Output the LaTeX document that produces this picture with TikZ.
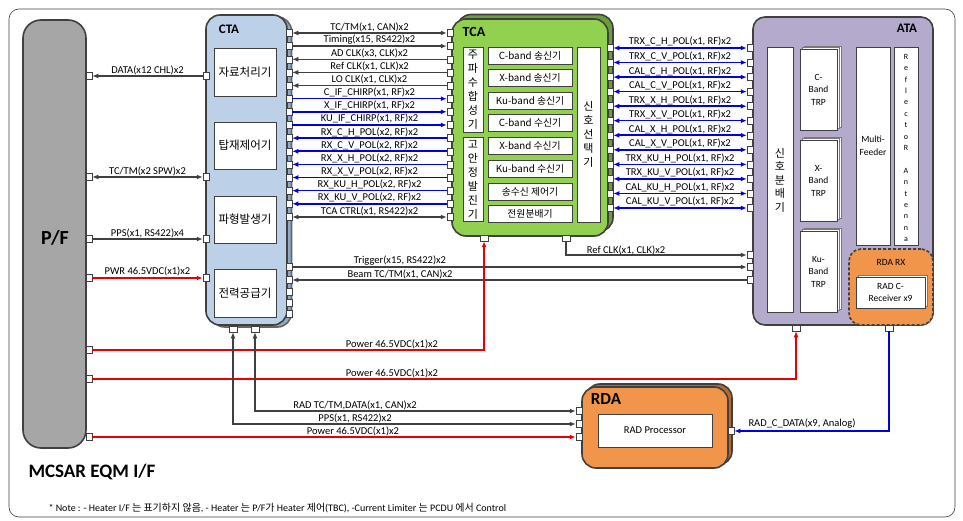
\documentclass[tikz,border=0pt]{standalone}
\usepackage{fontspec}
\setmainfont{Carlito}
\newfontfamily\kr{Noto Sans CJK KR}
\usetikzlibrary{arrows.meta}
\definecolor{gl}{HTML}{404040}
\definecolor{bl}{HTML}{0000E0}
\definecolor{rd}{HTML}{E60000}
\definecolor{pfgray}{HTML}{A6A6A6}
\definecolor{ctab}{HTML}{BCD0E8}
\definecolor{ctash}{HTML}{8FAAC8}
\definecolor{tcag}{HTML}{92D050}
\definecolor{tcash}{HTML}{6A9E3A}
\definecolor{atap}{HTML}{B4AACB}
\definecolor{rdao}{HTML}{F0954A}
\definecolor{rdash}{HTML}{B8682E}
\newcommand\tline[4]{%
  \node[port] (cR#1) at (289,#2) {};
  \node[port] (tL#1) at (450,#2) {};
  \draw[#3] (cR#1) -- node[lab,above=0.3pt] (lt#1) {#4} (tL#1);
}
\newcommand\aline[3]{%
  \node[port] (tR#1) at (610,#2) {};
  \node[port] (aL#1) at (750,#2) {};
  \draw[bline,<->] (tR#1) -- node[lab,above=0.3pt] (la#1) {#3} (aL#1);
}
\newcommand\vchars[5]{%
  \foreach[count=\k] \ch in {#5}{\node[kchar] (#1\k) at (#2,{#3+(\k-1)*#4}) {\ch};}%
}
\begin{document}
\begin{tikzpicture}[x=1pt,y=-1pt,
  >={Latex[length=6pt,width=5pt]},
  port/.style={draw=gl, fill=white, line width=0.5pt, minimum width=6pt, minimum height=7pt, inner sep=0pt},
  hport/.style={port, minimum width=8pt, minimum height=6pt},
  gline/.style={draw=gl, line width=1.4pt},
  bline/.style={draw=bl, line width=1.6pt},
  rline/.style={draw=rd, line width=1.6pt},
  lab/.style={font=\fontsize{10.5}{11}\selectfont, inner sep=0.5pt, text=black},
  wbox/.style={draw=gl, fill=white, line width=0.8pt, inner sep=0pt},
  ktext/.style={font=\kr\fontsize{11.5}{13}\selectfont},
  tbox/.style={wbox, minimum width=84pt, minimum height=17pt, font=\kr\fontsize{9.8}{11}\selectfont},
  kchar/.style={font=\kr\fontsize{11}{12}\selectfont, inner sep=0pt},
  block/.style={draw=gl, line width=1.6pt, rounded corners=14pt, inner sep=0pt},
  title/.style={font=\bfseries\fontsize{13}{13}\selectfont}
]
\useasboundingbox (0,0) rectangle (963,521);
\fill[white] (0,0) rectangle (963,521);
\draw[gl, line width=0.6pt, rounded corners=10pt] (9,9) rectangle (955,517);

% ---------- P/F ----------
\node[block, fill=pfgray, rounded corners=18pt, minimum width=63pt, minimum height=428pt] (pf) at (54.5,234) {};
\node[font=\bfseries\fontsize{20}{20}\selectfont] (pflab) at (55,238) {P/F};

% ---------- CTA ----------
\node[block, fill=ctash, draw=gl!80, minimum width=81pt, minimum height=310pt] (ctas) at (251,172) {};
\node[block, fill=ctab, minimum width=81pt, minimum height=310pt] (cta) at (246.5,170) {};
\node[title] (ctalab) at (229,29) {CTA};
\node[wbox, ktext, minimum width=62pt, minimum height=48pt] (c1) at (245,72) {자료처리기};
\node[wbox, ktext, minimum width=62pt, minimum height=47pt] (c2) at (245,145.5) {탑재제어기};
\node[wbox, ktext, minimum width=62pt, minimum height=47pt] (c3) at (245,219.5) {파형발생기};
\node[wbox, ktext, minimum width=62pt, minimum height=48pt] (c4) at (245,293) {전력공급기};

% ---------- TCA ----------
\node[block, fill=tcash, minimum width=156pt, minimum height=217pt] (tcas) at (535,123) {};
\node[block, fill=tcag, minimum width=156pt, minimum height=217pt] (tca) at (530,127.5) {};
\node[title, font=\bfseries\fontsize{14}{14}\selectfont] (tcalab) at (474,32) {TCA};
\node[wbox, minimum width=20pt, minimum height=85pt] (tf1) at (473,89.5) {};
\vchars{tf1c}{473}{54.5}{14}{주,파,수,합,성,기}
\node[wbox, minimum width=20pt, minimum height=84pt] (tf2) at (473,179) {};
\vchars{tf2c}{473}{144}{14}{고,안,정,발,진,기}
\node[tbox] (tm1) at (530,55.5) {C-band 송신기};
\node[tbox] (tm2) at (530,77.5) {X-band 송신기};
\node[tbox] (tm3) at (530,100.5) {Ku-band 송신기};
\node[tbox] (tm4) at (530,123) {C-band 수신기};
\node[tbox] (tm5) at (530,145.5) {X-band 수신기};
\node[tbox] (tm6) at (530,168.5) {Ku-band 수신기};
\node[tbox] (tm7) at (530,191.5) {송수신 제어기};
\node[tbox] (tm8) at (530,214) {전원분배기};
\node[wbox, minimum width=23pt, minimum height=175pt] (tsel) at (588.5,134.5) {};
\vchars{tselc}{588.5}{106.5}{14}{신,호,선,택,기}

% ---------- ATA ----------
\node[block, fill=atap, rounded corners=12pt, minimum width=180pt, minimum height=308pt] (ata) at (843,171) {};
\node[title] (atalab) at (907,28) {ATA};
\node[wbox, minimum width=26pt, minimum height=265pt] (adist) at (780,179.5) {};
\vchars{adc}{780}{153}{13.5}{신,호,분,배,기}
\foreach \n/\cy/\t in {1/89.5/C-, 2/180.5/X-, 3/271.5/Ku-}{
  \node[wbox, draw=gl!70, minimum width=37pt, minimum height=81pt] (trpsb\n) at (822.5,\cy-3) {};
  \node[wbox, draw=gl!70, minimum width=37pt, minimum height=81pt] (trpsa\n) at (820.5,\cy-1.5) {};
  \node[wbox, minimum width=37pt, minimum height=81pt, align=center, font=\fontsize{9.5}{12.5}\selectfont] (trp\n) at (818.5,\cy) {\t\\Band\\TRP};
}
\node[wbox, minimum width=34pt, minimum height=198pt, align=center, font=\fontsize{9.5}{13}\selectfont] (mf) at (873,146) {Multi-\\Feeder};
\node[wbox, minimum width=24pt, minimum height=198pt] (refl) at (906,146) {};
\node[align=center, font=\fontsize{8}{11.4}\selectfont] (reflt) at (906,148) {R\\e\\f\\l\\e\\c\\t\\o\\R\\\mbox{}\\A\\n\\t\\e\\n\\n\\a};
\node[draw=gl, densely dashed, line width=1.6pt, fill=rdao, rounded corners=12pt, minimum width=84pt, minimum height=76pt, inner sep=0pt] (rdarx) at (891,287) {};
\node[font=\fontsize{9.5}{10}\selectfont] (rdarxlab) at (891,262) {RDA RX};
\node[wbox, draw=gl!70, minimum width=69pt, minimum height=31pt] (rcvs) at (892.5,291) {};
\node[wbox, minimum width=69pt, minimum height=31pt, align=center, font=\fontsize{9.5}{12}\selectfont] (rcv) at (890.5,292.5) {RAD C-\\Receiver x9};

% ---------- RDA ----------
\node[block, fill=rdash, minimum width=146pt, minimum height=81pt] (rdas) at (659,424.5) {};
\node[block, fill=rdao, minimum width=146pt, minimum height=81pt] (rda) at (655,427.5) {};
\node[font=\bfseries\fontsize{17}{17}\selectfont] (rdalab) at (606,399) {RDA};
\node[wbox, minimum width=114pt, minimum height=33pt, font=\fontsize{10.5}{11}\selectfont] (rproc) at (655,430.5) {RAD Processor};

% ---------- CTA <-> TCA ----------
\tline{1}{33}{gline,<->}{TC/TM(x1, CAN)x2}
\tline{2}{46.1}{gline,->}{Timing(x15, RS422)x2}
\tline{3}{59.3}{gline,<-}{AD CLK(x3, CLK)x2}
\tline{4}{72.4}{gline,<-}{Ref CLK(x1, CLK)x2}
\tline{5}{85.6}{gline,<-}{LO CLK(x1, CLK)x2}
\tline{6}{98.7}{bline,->}{C\_IF\_CHIRP(x1, RF)x2}
\tline{7}{111.8}{bline,->}{X\_IF\_CHIRP(x1, RF)x2}
\tline{8}{125}{bline,->}{KU\_IF\_CHIRP(x1, RF)x2}
\tline{9}{138.1}{bline,<-}{RX\_C\_H\_POL(x2, RF)x2}
\tline{10}{151.3}{bline,<-}{RX\_C\_V\_POL(x2, RF)x2}
\tline{11}{164.4}{bline,<-}{RX\_X\_H\_POL(x2, RF)x2}
\tline{12}{177.5}{bline,<-}{RX\_X\_V\_POL(x2, RF)x2}
\tline{13}{190.7}{bline,<-}{RX\_KU\_H\_POL(x2, RF)x2}
\tline{14}{203.8}{bline,<-}{RX\_KU\_V\_POL(x2, RF)x2}
\tline{15}{217}{gline,<->}{TCA CTRL(x1, RS422)x2}

% ---------- TCA <-> ATA ----------
\aline{1}{48}{TRX\_C\_H\_POL(x1, RF)x2}
\aline{2}{62.5}{TRX\_C\_V\_POL(x1, RF)x2}
\aline{3}{77.1}{CAL\_C\_H\_POL(x1, RF)x2}
\aline{4}{91.6}{CAL\_C\_V\_POL(x1, RF)x2}
\aline{5}{106.2}{TRX\_X\_H\_POL(x1, RF)x2}
\aline{6}{120.7}{TRX\_X\_V\_POL(x1, RF)x2}
\aline{7}{135.3}{CAL\_X\_H\_POL(x1, RF)x2}
\aline{8}{149.8}{CAL\_X\_V\_POL(x1, RF)x2}
\aline{9}{164.4}{TRX\_KU\_H\_POL(x1, RF)x2}
\aline{10}{178.9}{TRX\_KU\_V\_POL(x1, RF)x2}
\aline{11}{193.5}{CAL\_KU\_H\_POL(x1, RF)x2}
\aline{12}{208}{CAL\_KU\_V\_POL(x1, RF)x2}

% ---------- other ports ----------
\foreach \n/\y in {1/76,2/177,3/239,4/278,5/350,6/379,7/437}{\node[port] (pf\n) at (89,\y) {};}
\foreach \n/\y in {1/76,2/177,3/239,4/278}{\node[port] (cL\n) at (206,\y) {};}
\foreach \n/\y in {16/267,17/280,18/292,19/303,20/314}{\node[port] (cR\n) at (289,\y) {};}
\node[hport] (cB1) at (233,329) {};
\node[hport] (cB2) at (255,329) {};
\node[hport] (tB1) at (484,238) {};
\node[hport] (tB2) at (566,238) {};
\foreach \n/\y in {13/255,14/267,15/280}{\node[port] (aL\n) at (750,\y) {};}
\node[hport] (aB1) at (796,328) {};
\node[hport] (aB2) at (889,328) {};
\foreach \n/\y in {1/411,2/424,3/437}{\node[port] (rL\n) at (579,\y) {};}
\node[port] (rR1) at (731,431) {};

% ---------- P/F <-> CTA ----------
\draw[gline,->] (cL1) -- node[lab,above=0.3pt] (lp1) {DATA(x12 CHL)x2} (pf1);
\draw[gline,<->] (pf2) -- node[lab,above=0.3pt] (lp2) {TC/TM(x2 SPW)x2} (cL2);
\draw[gline,->] (pf3) -- node[lab,above=0.3pt] (lp3) {PPS(x1, RS422)x4} (cL3);
\draw[rline,->] (pf4) -- node[lab,above=0.3pt] (lp4) {PWR 46.5VDC(x1)x2} (cL4);

% ---------- CTA / TCA -> ATA ----------
\draw[gline,->] (tB2) |- (aL13);
\node[lab] (lref) at (626,250) {Ref CLK(x1, CLK)x2};
\draw[gline,->] (cR16) -- (aL14);
\node[lab] (ltrig) at (400,261) {Trigger(x15, RS422)x2};
\draw[gline,<-] (cR17) -- (aL15);
\node[lab] (lbeam) at (400,274) {Beam TC/TM(x1, CAN)x2};

% ---------- power ----------
\draw[rline,->] (pf5) -| (tB1);
\node[lab] (lpw1) at (392,344) {Power 46.5VDC(x1)x2};
\draw[rline,->] (pf6) -| (aB1);
\node[lab] (lpw2) at (392,373) {Power 46.5VDC(x1)x2};
\draw[rline,->] (pf7) -- (rL3);
\node[lab] (lpw3) at (353,431) {Power 46.5VDC(x1)x2};

% ---------- CTA <-> RDA ----------
\draw[gline,<->] (cB1) |- (rL2);
\node[lab] (lpps) at (355,418) {PPS(x1, RS422)x2};
\draw[gline,<->] (cB2) |- (rL1);
\node[lab] (lradtc) at (355,405) {RAD TC/TM,DATA(x1, CAN)x2};

% ---------- ATA -> RDA ----------
\draw[bline,->] (aB2) |- (rR1);
\node[lab] (lradc) at (802,424) {RAD\_C\_DATA(x9, Analog)};

% ---------- title / note ----------
\node[font=\bfseries\fontsize{19}{19}\selectfont, anchor=west] (ttl) at (25,472) {MCSAR EQM I/F};
\node[anchor=west, font=\fontsize{10}{11}\selectfont] (note) at (45,508) {* Note : - Heater I/F {\kr 는 표기하지 않음}, - Heater {\kr 는} P/F{\kr 가} Heater {\kr 제어}(TBC), -Current Limiter {\kr 는} PCDU {\kr 에서} Control};
\end{tikzpicture}
\end{document}
